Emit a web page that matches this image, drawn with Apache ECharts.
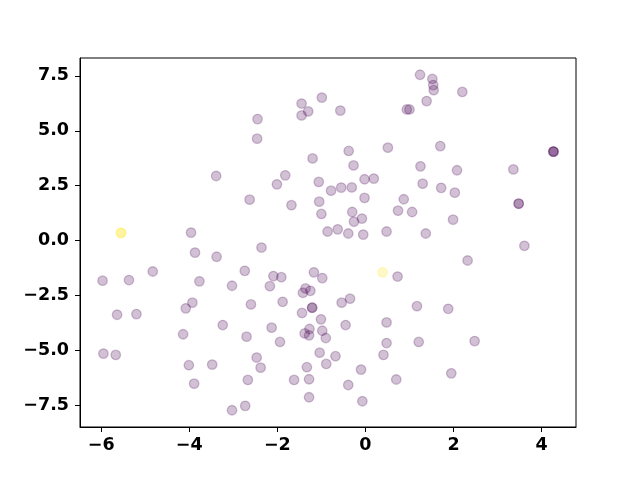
<!DOCTYPE html>
<html>
<head>
<meta charset="utf-8">
<script src="https://cdn.jsdelivr.net/npm/echarts@6/dist/echarts.min.js"></script>
<style>html,body{margin:0;padding:0;background:#fff}#c{width:640px;height:480px}</style>
</head>
<body>
<div id="c"></div>
<script>
var xValues = [-3.39,-2.63,-3.96,-0.99,-1.45,-1.30,-1.45,-0.57,0.94,1.00,-2.45,-2.46,-0.38,0.51,-1.20,-0.27,-1.82,-2.01,-1.06,-0.02,0.19,-0.78,-0.55,-0.31,-1.68,-1.05,-0.02,0.87,0.74,1.06,-1.00,-0.30,-0.08,-0.26,-0.86,-0.63,-0.39,-0.05,0.48,-2.36,1.24,1.52,1.54,1.55,2.20,1.39,1.70,4.27,4.27,4.27,1.25,2.08,3.36,1.30,1.72,2.03,3.48,3.48,1.99,1.37,3.61,-3.87,-3.38,-4.83,-5.97,-5.37,-3.77,-2.74,-3.03,-3.93,-4.08,-2.60,-5.64,-5.20,-3.24,-4.14,-2.70,-5.95,-5.67,-4.01,-3.48,-3.89,-2.67,-3.03,-2.73,-2.09,-1.91,-1.17,-0.98,-2.17,-1.36,-1.42,-1.25,-1.88,-1.21,-1.21,-1.44,-0.54,-0.35,-1.01,-2.13,-0.45,0.48,-1.27,-1.38,-1.28,-0.98,-0.90,-1.94,0.48,-1.04,-0.68,-2.47,0.41,-2.38,-1.33,-0.89,-0.10,-1.62,-1.28,-0.39,0.70,-1.28,-0.07,0.73,1.17,2.32,1.88,1.21,2.48,1.95,-5.55,-5.55,0.39];
var yValues = [2.94,1.86,0.36,6.51,6.24,5.88,5.70,5.92,5.97,5.97,5.53,4.64,4.08,4.23,3.74,3.42,2.97,2.56,2.67,2.79,2.82,2.27,2.41,2.42,1.61,1.77,1.94,1.88,1.36,1.30,1.21,1.30,1.00,0.86,0.41,0.51,0.32,0.27,0.41,-0.32,7.55,7.36,7.08,6.85,6.77,6.35,4.30,4.05,4.05,4.05,3.38,3.20,3.24,2.59,2.40,2.18,1.68,1.68,0.95,0.32,-0.24,-0.55,-0.74,-1.41,-1.83,-1.80,-1.86,-1.38,-2.06,-2.83,-3.09,-2.91,-3.38,-3.35,-3.85,-4.27,-4.38,-5.15,-5.21,-5.68,-5.65,-6.52,-6.35,-7.73,-7.53,-1.62,-1.67,-1.45,-1.71,-2.08,-2.18,-2.38,-2.29,-2.79,-3.06,-3.06,-3.30,-2.83,-2.65,-3.59,-3.97,-3.85,-3.73,-4.03,-4.23,-4.32,-4.11,-4.44,-4.62,-4.67,-5.11,-5.27,-5.33,-5.21,-5.79,-5.77,-5.62,-5.88,-6.35,-6.32,-6.58,-6.33,-7.14,-7.32,-1.64,-2.99,-0.91,-3.11,-4.62,-4.58,-6.05,0.35,0.35,-1.45];
var classValues = [0,0,0,0,0,0,0,0,0,0,0,0,0,0,0,0,0,0,0,0,0,0,0,0,0,0,0,0,0,0,0,0,0,0,0,0,0,0,0,0,0,0,0,0,0,0,0,0,0,0,0,0,0,0,0,0,0,0,0,0,0,0,0,0,0,0,0,0,0,0,0,0,0,0,0,0,0,0,0,0,0,0,0,0,0,0,0,0,0,0,0,0,0,0,0,0,0,0,0,0,0,0,0,0,0,0,0,0,0,0,0,0,0,0,0,0,0,0,0,0,0,0,0,0,0,0,0,0,0,0,0,1,1,1];
var xTicks = [-6,-4,-2,0,2,4];
var yTicks = [-7.5,-5.0,-2.5,0.0,2.5,5.0,7.5];

var palette = ['rgba(68,1,84,0.3)','rgba(253,231,37,0.3)'];
var points = xValues.map(function(x,i){
  return {value:[x,yValues[i]], itemStyle:{color:palette[classValues[i]], borderColor:palette[classValues[i]]}};
});
function lim(arr){
  var mn=Math.min.apply(null,arr), mx=Math.max.apply(null,arr), r=mx-mn;
  return [mn-0.05*r, mx+0.05*r];
}
var xl = lim(xValues), yl = lim(yValues);
function fmt(v,d){ var s=Math.abs(v).toFixed(d); return (v<0?'\u2212':'')+s; }
var labelStyle = {fontFamily:'DejaVu Sans', fontWeight:'bold', fontSize:17.5, color:'#000'};
var chart = echarts.init(document.getElementById('c'), null, {renderer:'canvas'});
chart.setOption({
  animation:false,
  backgroundColor:'#fff',
  grid:{left:80, right:64, top:58, bottom:53, show:true, borderColor:'#000', borderWidth:1, backgroundColor:'transparent'},
  xAxis:{type:'value', min:xl[0], max:xl[1], splitLine:{show:false},
    axisLine:{show:true, onZero:false, lineStyle:{color:'#000', width:1}},
    axisTick:{show:true, inside:false, length:5, lineStyle:{color:'#000', width:1}, customValues:xTicks},
    axisLabel:Object.assign({margin:9, customValues:xTicks, formatter:function(v){return fmt(v,0);}}, labelStyle)},
  yAxis:{type:'value', min:yl[0], max:yl[1], splitLine:{show:false},
    axisLine:{show:true, onZero:false, lineStyle:{color:'#000', width:1}},
    axisTick:{show:true, inside:false, length:5, lineStyle:{color:'#000', width:1}, customValues:yTicks},
    axisLabel:Object.assign({margin:11, customValues:yTicks, formatter:function(v){return fmt(v,1);}}, labelStyle)},
  series:[{type:'scatter', data:points, symbol:'circle', symbolSize:9.5, itemStyle:{borderWidth:1.3}}]
});
</script>
</body>
</html>
